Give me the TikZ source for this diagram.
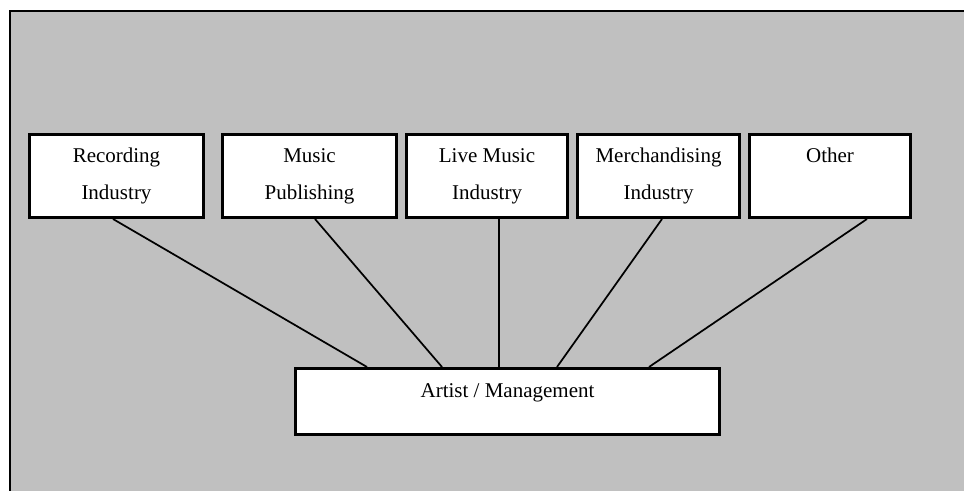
\documentclass[tikz,border=0pt]{standalone}
\usepackage{fontspec}
\setmainfont{Liberation Serif}

\tikzset{every picture/.style={line width=0.75pt}}
\tikzset{
	unitbox/.style={draw, line width=2.25pt, fill=white, inner sep=0pt, minimum height=62.25pt, align=center, font=\fontsize{15.75}{27.75}\selectfont},
	link/.style={line width=1.3pt}
}

\begin{document}
\begin{tikzpicture}[x=0.75pt,y=0.75pt,yscale=-1,xscale=1]
	\useasboundingbox (0,0) rectangle (964,491);

	%Shape: Background panel
	\fill [fill={rgb, 255:red, 192; green, 192; blue, 192 }] (10,11) rectangle (964,491) ;
	\draw [line width=1.5pt] (10,491) -- (10,11) -- (964,11) ;

	% Industry boxes
	\node [unitbox, minimum width=130.5pt] (rec) at (116.5,176) {Recording\\Industry};
	\node [unitbox, minimum width=130.5pt] (pub) at (309.5,176) {Music\\Publishing};
	\node [unitbox, minimum width=120.75pt] (live) at (487,176) {Live Music\\Industry};
	\node [unitbox, minimum width=121.5pt] (merch) at (658.5,176) {Merchandising\\Industry};
	\node [unitbox, minimum width=120.75pt] (other) at (830,176) {Other\\\phantom{Industry}};

	% Artist box
	\node [unitbox, minimum width=318pt, minimum height=49.5pt, label={[yshift=6.4pt, font=\fontsize{15.75}{27.75}\selectfont]center:Artist / Management}] (am) at (507.5,401.5) {};

	% Links
	\draw [link] ([shift={(-3.5,0)}]rec.south) -- ([shift={(-140.5,0)}]am.north) ;
	\draw [link] ([shift={(5.5,0)}]pub.south) -- ([shift={(-65.5,0)}]am.north) ;
	\draw [link] ([shift={(12,0)}]live.south) -- ([shift={(-8.5,0)}]am.north) ;
	\draw [link] ([shift={(3.5,0)}]merch.south) -- ([shift={(49.5,0)}]am.north) ;
	\draw [link] ([shift={(37,0)}]other.south) -- ([shift={(141.5,0)}]am.north) ;

\end{tikzpicture}
\end{document}
